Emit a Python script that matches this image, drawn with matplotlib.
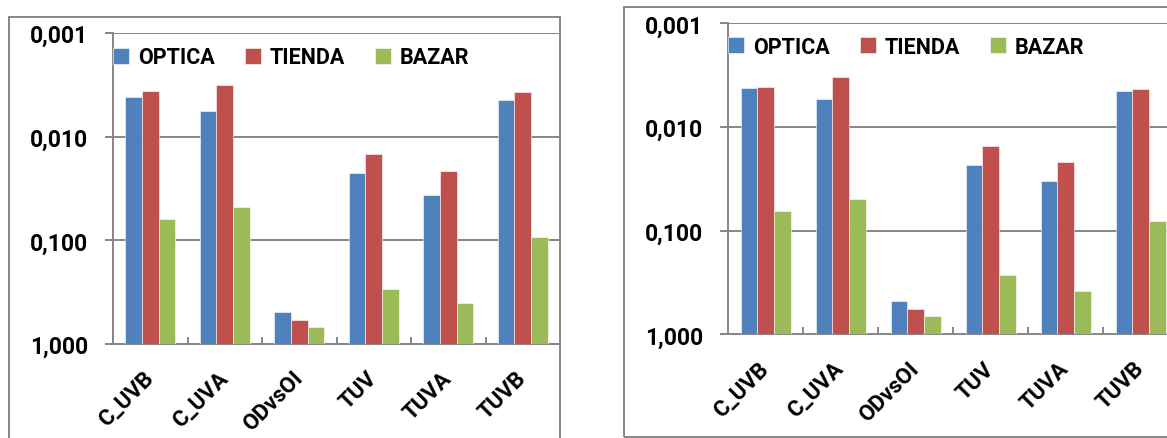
import matplotlib
matplotlib.use("Agg")
from matplotlib import pyplot as plt
from matplotlib.patches import Rectangle
from matplotlib.transforms import ScaledTranslation
from matplotlib.ticker import FixedLocator, FuncFormatter, NullFormatter

categories = ["C_UVB", "C_UVA", "ODvsOI", "TUV", "TUVA", "TUVB"]
series_names = ["OPTICA", "TIENDA", "BAZAR"]

# left chart
optica_left = [0.0041, 0.0057, 0.487, 0.0224, 0.0366, 0.0044]
tienda_left = [0.0036, 0.00315, 0.590, 0.0148, 0.0213, 0.0037]
bazar_left = [0.062, 0.048, 0.686, 0.294, 0.405, 0.092]

# right chart
optica_right = [0.0042, 0.0054, 0.474, 0.0231, 0.0334, 0.0045]
tienda_right = [0.00415, 0.0033, 0.574, 0.0153, 0.0219, 0.0043]
bazar_right = [0.064, 0.050, 0.665, 0.270, 0.382, 0.081]

y_ticks = [0.001, 0.01, 0.1, 1.0]

colors = ["#4F81BD", "#C0504D", "#9BBB59"]
grid_color = "#868686"

plt.rcParams["font.family"] = ["Roboto", "DejaVu Sans"]
plt.rcParams["font.weight"] = "bold"

W, H = 1167, 439
fig = plt.figure(figsize=(W / 100, H / 100), dpi=100)


def px_axes(left, top, right, bottom):
    return [left / W, 1 - bottom / H, (right - left) / W, (bottom - top) / H]


def draw_chart(ax, data, legend_y):
    n = len(categories)
    w = 1 / 4.5
    x = list(range(n))
    for i, (vals, name, c) in enumerate(zip(data, series_names, colors)):
        xs = [xx + (i - 1) * w for xx in x]
        ax.bar(xs, [v - 1 for v in vals], bottom=1, width=w, color=c,
               edgecolor="white", linewidth=0.4, label=name, zorder=3)
    ax.set_yscale("log")
    ax.set_ylim(1, 0.001)
    ax.set_xlim(-0.5, n - 0.5)
    ax.yaxis.set_major_locator(FixedLocator(y_ticks))
    ax.yaxis.set_minor_formatter(NullFormatter())
    ax.yaxis.set_minor_locator(FixedLocator([]))
    ax.yaxis.set_major_formatter(FuncFormatter(lambda v, p: f"{v:.3f}".replace(".", ",")))
    ax.grid(axis="y", color=grid_color, linewidth=1.4, zorder=0)
    ax.set_axisbelow(True)
    ax.set_xticks(x)
    ax.set_xticklabels(categories, rotation=45, ha="right", va="center",
                       rotation_mode="anchor", fontweight="bold")
    shift = ScaledTranslation(3 / 100, 0, fig.dpi_scale_trans)
    for lab in ax.get_xticklabels():
        lab.set_transform(lab.get_transform() + shift)
    ax.set_xticks([xx + 0.5 for xx in x[:-1]], minor=True)
    ax.tick_params(axis="x", which="major", length=0, pad=22, labelsize=16)
    ax.tick_params(axis="x", which="minor", direction="in", length=5,
                   width=1.4, color=grid_color)
    ax.tick_params(axis="y", which="major", direction="out", length=5.8,
                   width=1.4, color=grid_color, labelsize=16.5, pad=12)
    for lab in ax.get_yticklabels():
        lab.set_fontweight("bold")
    for s in ["top", "right"]:
        ax.spines[s].set_visible(False)
    for s in ["left", "bottom"]:
        ax.spines[s].set_color(grid_color)
        ax.spines[s].set_linewidth(1.4)
    ax.legend(loc="center left", bbox_to_anchor=(0, legend_y), ncol=3,
              frameon=False, borderaxespad=0, borderpad=0,
              prop={"size": 15.5, "weight": "bold"},
              handlelength=0.75, handleheight=0.75, handletextpad=0.4,
              columnspacing=1.4)


ax1 = fig.add_axes(px_axes(113, 34, 560, 345))
draw_chart(ax1, [optica_left, tienda_left, bazar_left], 1 - 24.5 / 311)

ax2 = fig.add_axes(px_axes(728, 24.3, 1178, 335.3))
draw_chart(ax2, [optica_right, tienda_right, bazar_right], 1 - 23.2 / 311)

# outer chart frames
fig.add_artist(Rectangle((9 / W, -0.1), (560 - 9) / W, 1.1 - 18 / H,
                         transform=fig.transFigure, fill=False,
                         edgecolor=grid_color, linewidth=1.4))
fig.add_artist(Rectangle((624 / W, 1 - 438 / H), 0.5, (438 - 8) / H,
                         transform=fig.transFigure, fill=False,
                         edgecolor=grid_color, linewidth=1.4))

fig.savefig("out.png", dpi=100)
